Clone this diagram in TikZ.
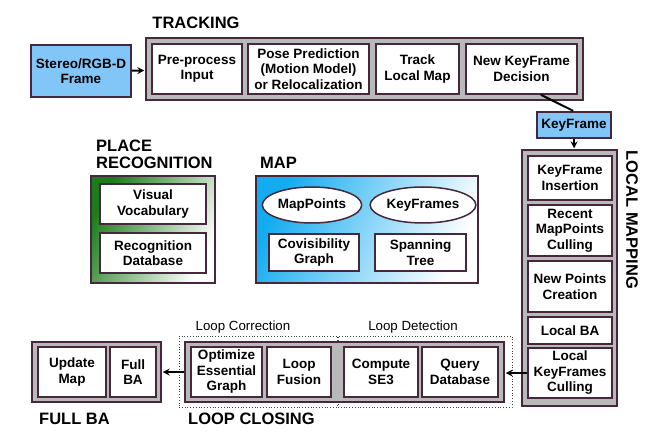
\documentclass[tikz,border=0pt]{standalone}
\usepackage{fontspec}
\setmainfont{Liberation Sans}
\usetikzlibrary{arrows,positioning,shapes.geometric,calc}

\definecolor{edgecol}{RGB}{70,40,60}
\definecolor{panelgray}{RGB}{185,185,185}
\definecolor{framebg}{RGB}{130,198,248}
\definecolor{placegreen}{RGB}{28,125,28}
\definecolor{mapblue}{RGB}{20,172,240}

\begin{document}
\begin{tikzpicture}[> = stealth, shorten > = 1pt, x = 1pt, y = -1pt]
  \tikzstyle{block}=[rectangle, draw=edgecol, line width=1.5pt, fill=white, align=center, inner sep=1pt, font=\fontsize{13.5}{15.5}\selectfont\bfseries]
  \tikzstyle{blob}=[ellipse, draw=edgecol, line width=1.5pt, fill=white, inner sep=1pt, font=\fontsize{13.5}{15.5}\selectfont\bfseries]
  \tikzstyle{panel}=[rectangle, draw=edgecol, line width=1.5pt, fill=panelgray, inner sep=0pt]
  \tikzstyle{title}=[inner sep=0pt, align=left, font=\fontsize{16.5}{17}\selectfont\bfseries]
  \tikzstyle{sublabel}=[inner sep=0pt, font=\fontsize{13.3}{14}\selectfont]
  \tikzstyle{group}=[rectangle, draw=black!75, dotted, line width=0.8pt, inner sep=0pt]
  \tikzstyle{link}=[->, line width=2pt, scale=1.3]

  \useasboundingbox (0,0) rectangle (656,435);

  % Tracking
  \node[title] (ttrack) at (196,23) {TRACKING};
  \node[block, fill=framebg, minimum width=100, minimum height=52] (frame) at (81,71) {Stereo/RGB-D\\Frame};
  \node[panel, minimum width=437, minimum height=62] (tracking) at (364.5,69) {};
  \node[block, minimum width=90, minimum height=50] (pre) at (197,69) {Pre-process\\Input};
  \node[block, minimum width=121, minimum height=50] (pose) at (308.5,69) {Pose Prediction\\(Motion Model)\\or Relocalization};
  \node[block, minimum width=83, minimum height=50] (track) at (417.5,69) {Track\\Local Map};
  \node[block, minimum width=111, minimum height=50] (decision) at (521.5,69) {New KeyFrame\\Decision};
  \node[block, fill=framebg, minimum width=74, minimum height=26] (kf) at (574,125) {KeyFrame};

  % Local Mapping
  \node[panel, minimum width=95, minimum height=256] (mapping) at (569.5,278) {};
  \node[title, rotate=-90] (tlocal) at (632,220) {LOCAL MAPPING};
  \node[block, minimum width=84, minimum height=44] (insert) at (570,178) {KeyFrame\\Insertion};
  \node[block, minimum width=84, minimum height=51] (recent) at (570,230.5) {Recent\\MapPoints\\Culling};
  \node[block, minimum width=84, minimum height=51] (newpts) at (570,286.5) {New Points\\Creation};
  \node[block, minimum width=84, minimum height=27] (localba) at (570,330.5) {Local BA};
  \node[block, minimum width=84, minimum height=50] (culling) at (570,373) {Local\\KeyFrames\\Culling};

  % Place Recognition
  \node[title] (tplace) at (96,154.5) [anchor=west] {PLACE\\RECOGNITION};
  \node[draw=edgecol, line width=1.5pt, top color=placegreen, bottom color=white, shading angle=62, minimum width=124, minimum height=107] (place) at (153,229.5) {};
  \node[block, minimum width=106, minimum height=40] (vocab) at (153,204) {Visual\\Vocabulary};
  \node[block, minimum width=106, minimum height=40] (recdb) at (153,253) {Recognition\\Database};

  % Map
  \node[title, anchor=west] (tmap) at (260,163) {MAP};
  \node[draw=edgecol, line width=1.5pt, top color=mapblue, bottom color=white, shading angle=65, minimum width=222, minimum height=107] (map) at (367,229.5) {};
  \node[blob, minimum width=96, minimum height=36] (mappts) at (312,205) {MapPoints};
  \node[blob, minimum width=96, minimum height=36] (keyfrms) at (423,205) {KeyFrames};
  \node[block, minimum width=90, minimum height=37] (covis) at (314,252.5) {Covisibility\\Graph};
  \node[block, minimum width=91, minimum height=37] (span) at (420.5,252.5) {Spanning\\Tree};

  % Loop Closing
  \node[group, minimum width=158, minimum height=71] (correct) at (258,371.5) {};
  \node[group, minimum width=174, minimum height=71] (detect) at (425,371.5) {};
  \node[sublabel] (tcorrect) at (243,327) {Loop Correction};
  \node[sublabel] (tdetect) at (413,327) {Loop Detection};
  \node[panel, minimum width=319, minimum height=60] (closing) at (344.5,372) {};
  \node[block, minimum width=71, minimum height=50] (optim) at (226.5,372) {Optimize\\Essential\\Graph};
  \node[block, minimum width=64, minimum height=50] (fusion) at (299,372) {Loop\\Fusion};
  \node[block, minimum width=74, minimum height=50] (se3) at (381,372) {Compute\\SE3};
  \node[block, minimum width=76, minimum height=50] (query) at (460,372) {Query\\Database};
  \node[title, anchor=west] (tclosing) at (188,419) {LOOP CLOSING};

  % Full BA
  \node[panel, minimum width=129, minimum height=60] (fullba) at (96.5,372) {};
  \node[block, minimum width=68, minimum height=50] (update) at (72,372) {Update\\Map};
  \node[block, minimum width=46, minimum height=50] (ba) at (133,372) {Full\\BA};
  \node[title, anchor=west] (tfull) at (39,419) {FULL BA};

  % Arestas
  \draw[link] (frame) -- (tracking);
  \draw[line width=2pt] (decision.-53.5) -- (kf.north);
  \draw[link] (kf.south) -- (kf.south |- mapping.north);
  \draw[link] (culling.west) -- (culling.west -| closing.east);
  \draw[link] (closing.west) -- (fullba.east);
\end{tikzpicture}
\end{document}
